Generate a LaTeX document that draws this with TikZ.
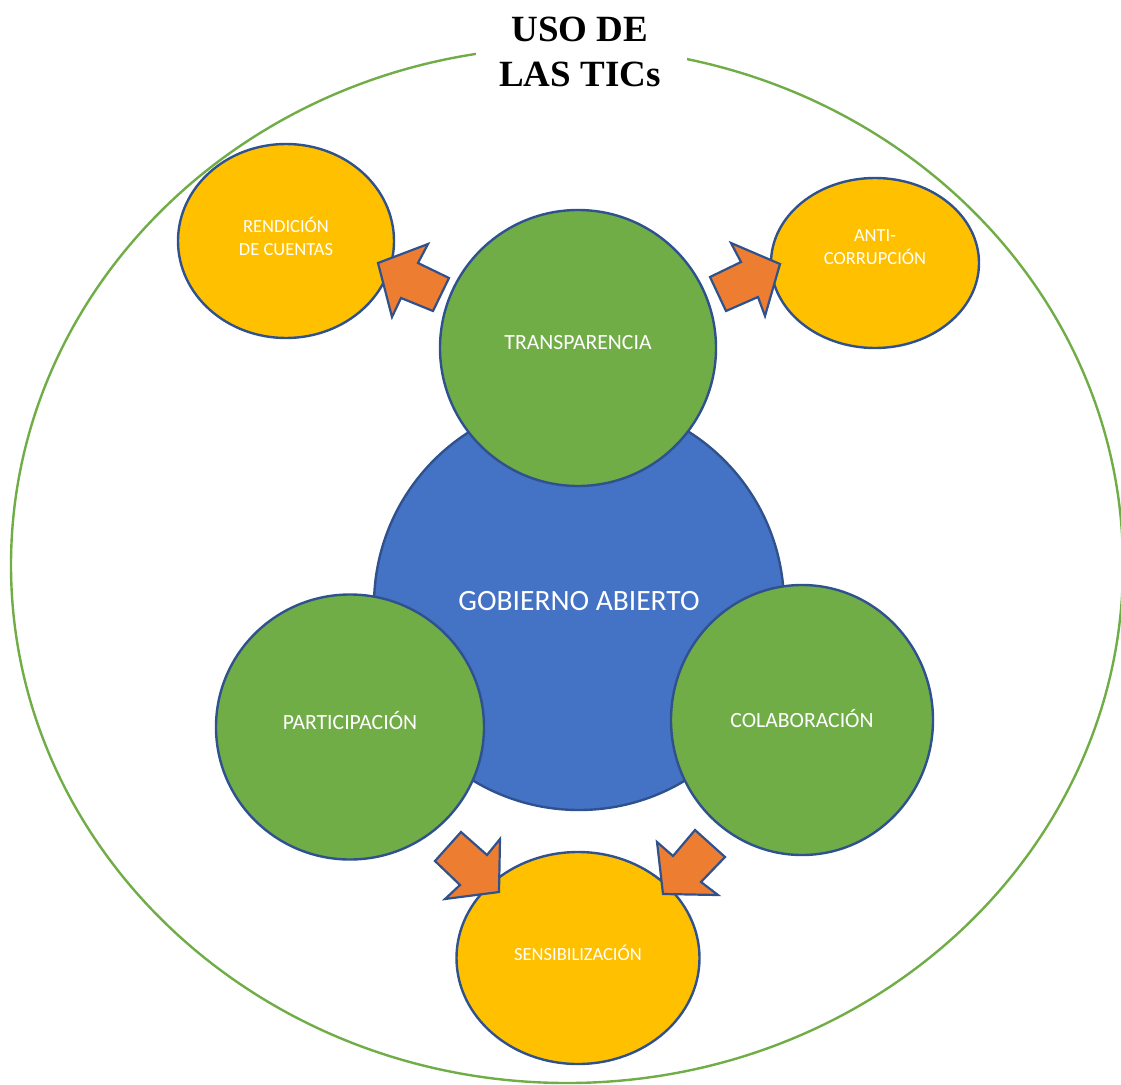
\documentclass[tikz,border=0pt]{standalone}
\usepackage{fontspec}
\setmainfont{Carlito}
\newfontfamily\titlefont{Liberation Serif}
\usetikzlibrary{shapes.geometric}
\definecolor{ublue}{HTML}{4472C4}
\definecolor{ugreen}{HTML}{70AD47}
\definecolor{uyellow}{HTML}{FFC000}
\definecolor{uorange}{HTML}{ED7D31}
\definecolor{uline}{HTML}{2F528F}
\tikzset{
  bubble/.style={ellipse, draw=uline, line width=2.4pt, inner sep=0pt},
  bluebub/.style={bubble, fill=ublue},
  greenbub/.style={bubble, fill=ugreen},
  yellowbub/.style={bubble, fill=uyellow},
  txt/.style={text=white, align=center, font=\fontsize{21.7}{26}\selectfont},
  smalltxt/.style={text=white, align=center, font=\fontsize{18.5}{23}\selectfont},
  blockarrow/.style={fill=uorange, draw=uline, line width=2.2pt, line join=miter},
}
\begin{document}
\begin{tikzpicture}[x=1pt,y=-1pt]
\useasboundingbox (0,0) rectangle (1121,1084);
% outer ellipse
\draw[ugreen, line width=2.4pt] (567,565) ellipse [x radius=556, y radius=518];
% title
\fill[white] (476,0) rectangle (687,100);
\node[font=\titlefont\bfseries\fontsize{37}{45}\selectfont, align=center] (title) at (580,52) {USO DE\\LAS TICs};
% central
\node[bluebub, minimum width=410pt, minimum height=410pt] (gob) at (579,605) {};
\node[text=white, font=\fontsize{29.5}{34}\selectfont] (gobt) at (579,601) {GOBIERNO ABIERTO};
% green
\node[greenbub, minimum width=276pt, minimum height=276pt] (tra) at (578,348) {};
\node[txt] (trat) at (578,343) {TRANSPARENCIA};
\node[greenbub, minimum width=268pt, minimum height=265pt] (par) at (350,727) {};
\node[txt] (part) at (350,721) {PARTICIPACIÓN};
\node[greenbub, minimum width=262pt, minimum height=270pt] (col) at (802,720) {};
\node[txt] (colt) at (802,719) {COLABORACIÓN};
% yellow
\node[yellowbub, minimum width=216pt, minimum height=194pt] (ren) at (286,241) {};
\node[smalltxt] (rent) at (286,236) {RENDICIÓN\\DE CUENTAS};
\node[yellowbub, minimum width=208pt, minimum height=170pt] (ant) at (875,263) {};
\node[smalltxt] (antt) at (875,247) {ANTI-\\CORRUPCIÓN};
\node[yellowbub, minimum width=243pt, minimum height=212pt] (sen) at (578,958) {};
\node[smalltxt] (sent) at (578,953) {SENSIBILIZACIÓN};
% block arrows
\draw[blockarrow] (378,263) -- (428,244) -- (418,263) -- (449,278) -- (433,311) -- (401,298) -- (392,317) -- cycle;
\draw[blockarrow] (780,264) -- (731,243) -- (741,262) -- (710,277) -- (726,311) -- (758,297) -- (765,316) -- cycle;
\draw[blockarrow] (499,892) -- (500,839) -- (487,855) -- (461,832) -- (435,861) -- (460,885) -- (445,899) -- cycle;
\draw[blockarrow] (663,894) -- (657,842) -- (673,856) -- (695,830) -- (725,857) -- (701,882) -- (718,895) -- cycle;
\end{tikzpicture}
\end{document}
